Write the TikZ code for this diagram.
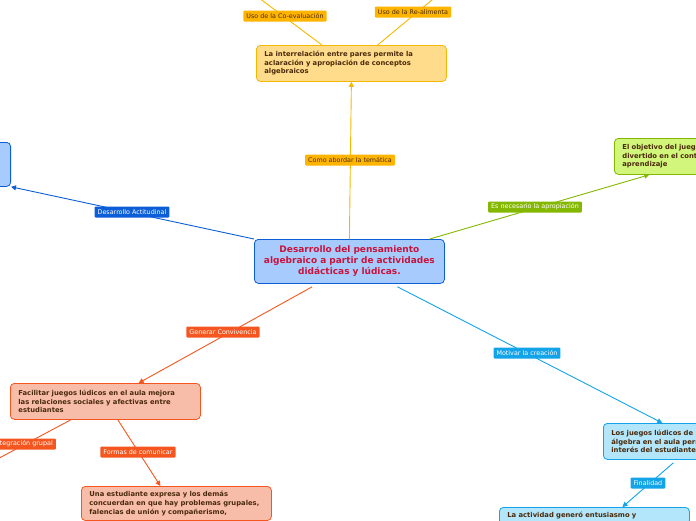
\documentclass[tikz,border=0pt]{standalone}
\usepackage{fontspec}
\setmainfont{DejaVu Sans}
\usetikzlibrary{arrows.meta}

\definecolor{blueline}{HTML}{0B5ED7}
\definecolor{bluefill}{HTML}{A8CBFE}
\definecolor{mainred}{HTML}{C8143C}
\definecolor{yelline}{HTML}{F5B800}
\definecolor{yelfill}{HTML}{FFDC8C}
\definecolor{yeltag}{HTML}{FFB400}
\definecolor{grnline}{HTML}{84B800}
\definecolor{grnfill}{HTML}{D2F57C}
\definecolor{redline}{HTML}{F5561F}
\definecolor{redfill}{HTML}{F8BDA9}
\definecolor{cyanline}{HTML}{13A3E8}
\definecolor{cyanfill}{HTML}{B3E5FB}
\definecolor{brown}{HTML}{4A2A0A}

\tikzstyle{topic}=[rectangle,rounded corners=4pt,line width=0.8pt,inner xsep=8pt,inner ysep=5pt,text width=174pt,align=left,font=\fontsize{6.8}{8.6}\selectfont\bfseries,text=brown,anchor=north west]
\tikzstyle{tag}=[rectangle,rounded corners=1pt,inner xsep=3pt,inner ysep=2pt,minimum height=11pt,font=\fontsize{6.4}{7}\selectfont,text=white]
\tikzstyle{link}=[line width=0.9pt,-{Triangle[length=5pt,width=5pt]}]

\begin{document}
\begin{tikzpicture}[x=1pt,y=-1pt]
\useasboundingbox (0,0) rectangle (696,520);

% central topic
\node[rectangle,rounded corners=4pt,line width=0.8pt,draw=blueline,fill=bluefill,anchor=north west,
      minimum width=190pt,minimum height=44pt,text width=182pt,align=center,
      font=\fontsize{9}{11}\selectfont\bfseries,text=mainred] (main) at (254,239)
      {Desarrollo del pensamiento\\algebraico a partir de actividades\\didácticas y lúdicas.};

% subtopics
\node[topic,draw=yelline,fill=yelfill,minimum height=36pt] (pares) at (256,45)
      {La interrelación entre pares permite la\\aclaración y apropiación de conceptos\\algebraicos};
\node[topic,draw=blueline,fill=bluefill,minimum height=44pt,anchor=north east] (actit) at (11,142) {};
\node[topic,draw=grnline,fill=grnfill,minimum height=36pt] (juego) at (614,138)
      {El objetivo del juego\\divertido en el contexto\\aprendizaje};
\node[topic,draw=redline,fill=redfill,minimum height=36pt] (facil) at (10,383)
      {Facilitar juegos lúdicos en el aula mejora\\las relaciones sociales y afectivas entre\\estudiantes};
\node[topic,draw=redline,fill=redfill] (expresa) at (81,486)
      {Una estudiante expresa y los demás\\concuerdan en que hay problemas grupales,\\falencias de unión y compañerismo,};
\node[topic,draw=cyanline,fill=cyanfill,minimum height=36pt] (interes) at (603,423)
      {Los juegos lúdicos de\\álgebra en el aula permiten\\interés del estudiante};
\node[topic,draw=cyanline,fill=cyanfill] (entus) at (499,507)
      {La actividad generó entusiasmo y};

% free ends
\coordinate (coev) at (255,-5);
\coordinate (realim) at (438,-5);
\coordinate (integ) at (-10,463);

% connectors
\draw[link,yelline] (main.north) -- (pares.south);
\draw[line width=0.9pt,yelline] (pares.148) -- (coev);
\draw[line width=0.9pt,yelline] (pares.35) -- (realim);
\draw[link,blueline] (main.north west) -- (actit.south east);
\draw[link,grnline] ([xshift=-15pt]main.north east) -- (juego.197);
\draw[link,redline] ([yshift=-3pt]main.211) -- (facil.29);
\draw[line width=0.9pt,redline] (facil.208) -- (integ);
\draw[link,redline] (facil.-56) -- ([xshift=-16pt]expresa.north);
\draw[link,cyanline] ([yshift=-3pt]main.-25) -- (interes.153);
\draw[link,cyanline] ([xshift=-25pt,yshift=-3pt]interes.south) -- ([xshift=28pt]entus.north);

% labels
\node[tag,fill=yeltag,text=brown] (tema) at (350,160) {Como abordar la temática};
\node[tag,fill=yeltag,text=brown] (coevl) at (285,16) {Uso de la Co-evaluación};
\node[tag,fill=yeltag,text=brown] (realiml) at (413,12) {Uso de la Re-alimenta};
\node[tag,fill=blueline] (actitl) at (132,212) {Desarrollo Actitudinal};
\node[tag,fill=grnline] (apropl) at (535,207) {Es necesario la apropiación};
\node[tag,fill=redline] (convl) at (223,332) {Generar Convivencia};
\node[tag,fill=redline,anchor=east] (integl) at (56,444) {Integración grupal};
\node[tag,fill=redline] (comunl) at (138,452) {Formas de comunicar};
\node[tag,fill=cyanline] (motivl) at (527,353) {Motivar la creación};
\node[tag,fill=cyanline] (finl) at (648,483) {Finalidad};

\end{tikzpicture}
\end{document}
